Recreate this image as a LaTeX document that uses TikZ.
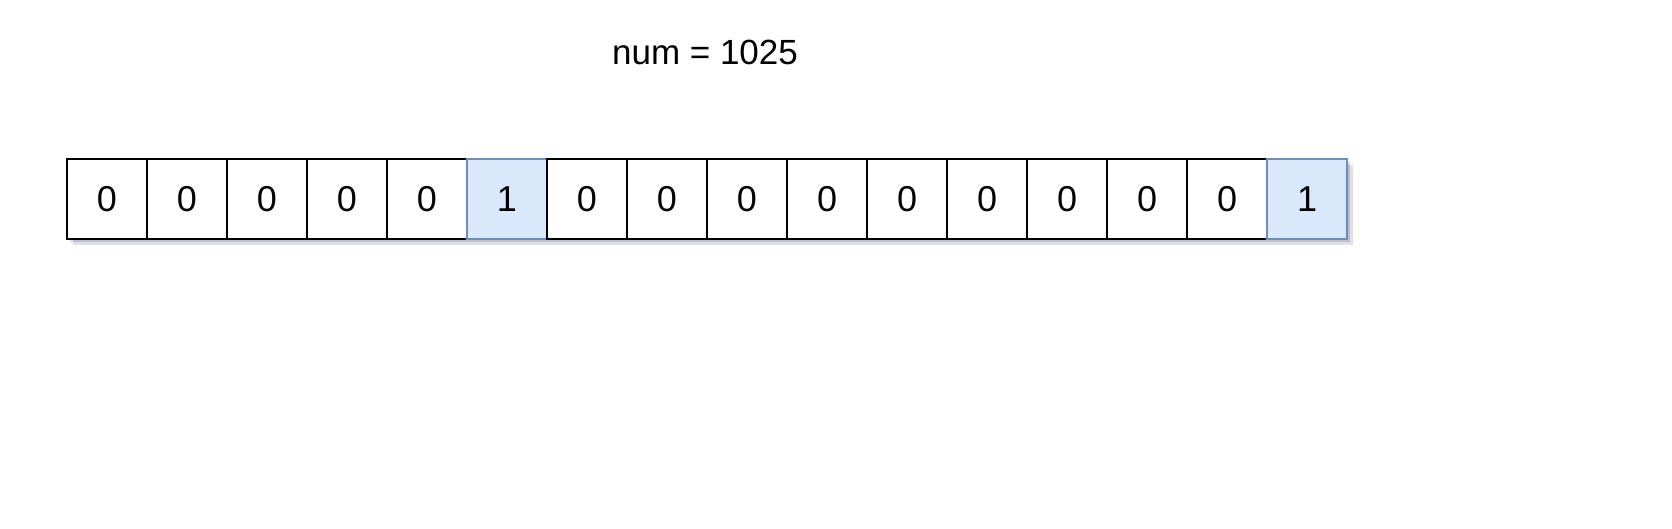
\documentclass[tikz,border=0pt]{standalone}
\usepackage{fontspec}
\setmainfont{Liberation Sans}
\usepackage{xcolor}
\usetikzlibrary{shadows}
\definecolor{cFill}{RGB}{218,232,252}
\definecolor{cEdge}{RGB}{108,142,191}
\tikzset{
	bitcell/.style ={rectangle, draw=black, line width=1.5pt, minimum size=80pt, inner sep=0pt, outer sep=0pt, fill=white,
		drop shadow={opacity=0.12, shadow xshift=6pt, shadow yshift=-6pt, fill=black!70!blue},
		drop shadow={opacity=0.15, shadow xshift=3pt, shadow yshift=-3pt, fill=black!70!blue}},
	setcell/.style ={bitcell, draw=cEdge, fill=cFill},
	title/.style   ={font=\fontsize{35}{40}\selectfont},
}
\begin{document}
\begin{tikzpicture}[x=1pt, y=-1pt, font=\fontsize{36}{40}\selectfont]
			\useasboundingbox (0,0) rectangle (1672,528);
			\node[title] (num) at (705,52) {num = 1025};
			\foreach \i/\b in {1/0, 2/0, 3/0, 4/0, 5/0, 6/1, 7/0, 8/0, 9/0, 10/0, 11/0, 12/0, 13/0, 14/0, 15/0, 16/1} {
				\ifnum\b=1
					\node[setcell] (c\i) at ({27+80*\i},199) {\b};
				\else
					\node[bitcell] (c\i) at ({27+80*\i},199) {\b};
				\fi
			}
		\end{tikzpicture}
\end{document}
